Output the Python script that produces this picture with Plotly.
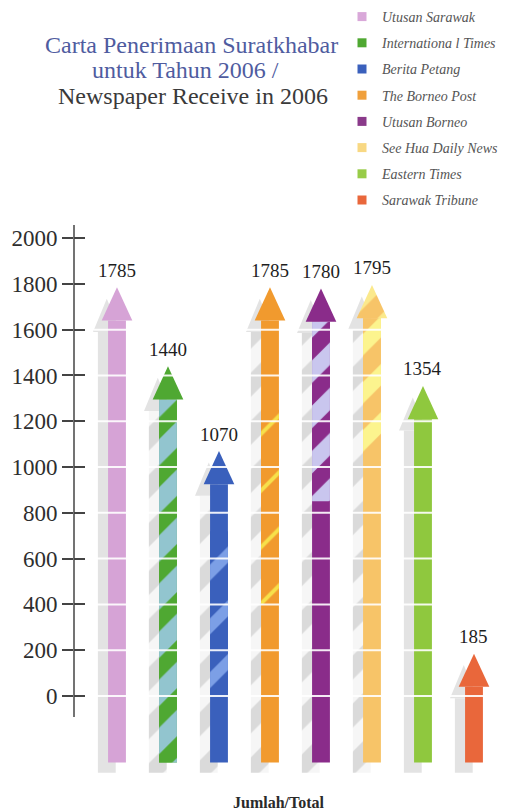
import plotly.graph_objects as go

# ---- data ----
names = ["Utusan Sarawak", "Internationa l Times", "Berita Petang", "The Borneo Post",
         "Utusan Borneo", "See Hua Daily News", "Eastern Times", "Sarawak Tribune"]
values = [1785, 1440, 1070, 1785, 1780, 1795, 1354, 185]
y_ticks = [0, 200, 400, 600, 800, 1000, 1200, 1400, 1600, 1800, 2000]
x_title = "Jumlah/Total"

# ---- styles ----
shaft_colors = ["#d6a3d6", "#4fa832", "#3a60bc", "#f19a2e", "#8a2c8a", "#f7c468", "#8fc83e", "#e9673b"]
head_colors = ["#d6a3d6", "#4fa832", "#3a60bc", "#f19a2e", "#8a2c8a", "#fbe98c", "#8fc83e", "#e9673b"]
legend_colors = ["#d9a8d9", "#4fa832", "#3a60bc", "#f0a03c", "#8a3a8a", "#f8d883", "#98cc48", "#e9673b"]
# stripe overlay: (from, to, bg, fg, solidity, size) or None
stripes = [
    None,
    (-290, 1300, "#92c5cf", "#4fa832", 0.45, 34),
    (0, 720, "#3a60bc", "#7c9fe6", 0.3, 38),
    (400, 1250, "#f19a2e", "#f7e04a", 0.1, 40),
    (850, 1700, "#c9c6ee", "#8a2c8a", 0.5, 32),
    (1030, 1700, "#fcf48e", "#f7c468", 0.55, 34),
    None,
    None,
]
shadow_striped = [False, True, True, True, True, True, False, False]

BASE = -290
HEAD_H = 145
SHAFT_HW = 0.175
HEAD_HW = 0.3
SH_DX = -0.2
SH_DY = -50
SH_BASE = -335
SHADOW = "#e3e3e3"

fig = go.Figure()


def rect(cx, y0, y1, hw):
    return [cx - hw, cx + hw, cx + hw, cx - hw, cx - hw], [y0, y0, y1, y1, y0]


def tri(cx, yb, yt, hw):
    return [cx - hw, cx + hw, cx, cx - hw], [yb, yb, yt, yb]


def poly(xs, ys, color, pattern=None):
    kw = dict(x=xs, y=ys, fill="toself", mode="none", fillcolor=color,
              showlegend=False, hoverinfo="skip")
    if pattern is not None:
        kw["fillpattern"] = pattern
    fig.add_trace(go.Scatter(**kw))


# shadows
for i, v in enumerate(values):
    cx = i + SH_DX
    top = v + SH_DY - HEAD_H
    xs, ys = rect(cx, SH_BASE, top, SHAFT_HW)
    if shadow_striped[i]:
        poly(xs, ys, "#f3f3f3", dict(shape="/", bgcolor="#f6f6f6", fgcolor="#dadada",
                                      solidity=0.5, size=34, fillmode="replace"))
    else:
        poly(xs, ys, SHADOW)
    xs, ys = tri(cx, top, v + SH_DY, HEAD_HW * 0.9)
    poly(xs, ys, SHADOW)

# coloured arrows
for i, v in enumerate(values):
    top = v - HEAD_H
    xs, ys = rect(i, BASE, top, SHAFT_HW)
    poly(xs, ys, shaft_colors[i])
    st = stripes[i]
    if st is not None:
        s0, s1 = max(st[0], BASE), min(st[1], top)
        if s1 > s0:
            xs, ys = rect(i, s0, s1, SHAFT_HW)
            poly(xs, ys, st[2], dict(shape="/", bgcolor=st[2], fgcolor=st[3],
                                     solidity=st[4], size=st[5], fillmode="replace"))
    xs, ys = tri(i, top, v, HEAD_HW)
    if i == 5:
        poly(xs, ys, head_colors[i], dict(shape="/", bgcolor=head_colors[i], fgcolor="#f7c468",
                                          solidity=0.5, size=34, fillmode="replace"))
    else:
        poly(xs, ys, head_colors[i])

# white grid lines across the arrows
gx, gy = [], []
for t in y_ticks:
    gx += [-0.45, len(values) - 0.4, None]
    gy += [t, t, None]
fig.add_trace(go.Scatter(x=gx, y=gy, mode="lines", line=dict(color="rgba(255,255,255,0.9)", width=2),
                         showlegend=False, hoverinfo="skip"))

# legend entries
for i, n in enumerate(names):
    fig.add_trace(go.Scatter(x=[None], y=[None], mode="markers", name=n, legendgroup=n,
                             marker=dict(symbol="square", size=9, color=legend_colors[i])))

# dummy trace for the inner-tick axis
fig.add_trace(go.Scatter(x=[None], y=[None], yaxis="y2", showlegend=False, hoverinfo="skip"))

# value labels
for i, v in enumerate(values):
    fig.add_annotation(x=i, y=v, text=str(v), showarrow=False, yshift=17, yanchor="middle",
                       font=dict(family="Liberation Serif", size=19, color="#1e1e1e"))

# page has an 8px body margin: work in figure pixels = page pixels - 8
OFF = 8
W, H = 511 - OFF, 812 - OFF
ML, MR, MT, MB = 74 - OFF, 6, 225 - OFF, 37
PW, PH = W - ML - MR, H - MT - MB


def px2paper(px, py):
    return (px - OFF - ML) / PW, (H - MB - (py - OFF)) / PH


# title (three lines)
title_lines = [("Carta Penerimaan Suratkhabar", "#4f5c9f", 191, 45),
               ("untuk Tahun 2006 /", "#4f5c9f", 185, 70),
               ("Newspaper Receive in 2006", "#3a3a3a", 193, 96)]
for txt, col, px, py in title_lines:
    ax, ay = px2paper(px, py)
    fig.add_annotation(xref="paper", yref="paper", x=ax, y=ay,
                       text=txt, showarrow=False, xanchor="center", yanchor="middle",
                       font=dict(family="Liberation Serif", size=24, color=col))

ax, ay = px2paper(279, 802)
fig.add_annotation(xref="paper", yref="paper", x=ax, y=ay,
                   text="<b>" + x_title + "</b>", showarrow=False, xanchor="center", yanchor="middle",
                   font=dict(family="Liberation Serif", size=16, color="#2a2a2a"))

# y axis line
fig.add_shape(type="line", xref="paper", x0=0, x1=0, yref="y", y0=-92, y1=2057,
              line=dict(color="#444444", width=1.5))

lgx, lgy = px2paper(342, 1)

yr = [-345, 2057]
fig.update_layout(
    width=W, height=H,
    margin=dict(l=ML, r=MR, t=MT, b=MB, pad=0, autoexpand=False),
    paper_bgcolor="white", plot_bgcolor="white",
    xaxis=dict(range=[-0.843, 7.608], visible=False, fixedrange=True),
    yaxis=dict(range=yr, tickvals=y_ticks, ticks="outside", ticklen=11, tickwidth=1.5,
               tickcolor="#444444", showgrid=False, zeroline=False, showline=False,
               tickfont=dict(family="Liberation Serif", size=23, color="#2e2e2e")),
    yaxis2=dict(range=yr, overlaying="y", side="left", tickvals=y_ticks, ticks="inside",
                ticklen=11, tickwidth=1.5, tickcolor="#444444", showticklabels=False,
                showgrid=False, zeroline=False, showline=False),
    legend=dict(xref="paper", yref="paper", x=lgx, y=lgy,
                xanchor="left", yanchor="top", traceorder="grouped", tracegroupgap=5,
                bgcolor="rgba(0,0,0,0)",
                font=dict(family="Liberation Serif", size=14, color="#555555", style="italic")),
    showlegend=True,
)

fig.write_html("out.html")
